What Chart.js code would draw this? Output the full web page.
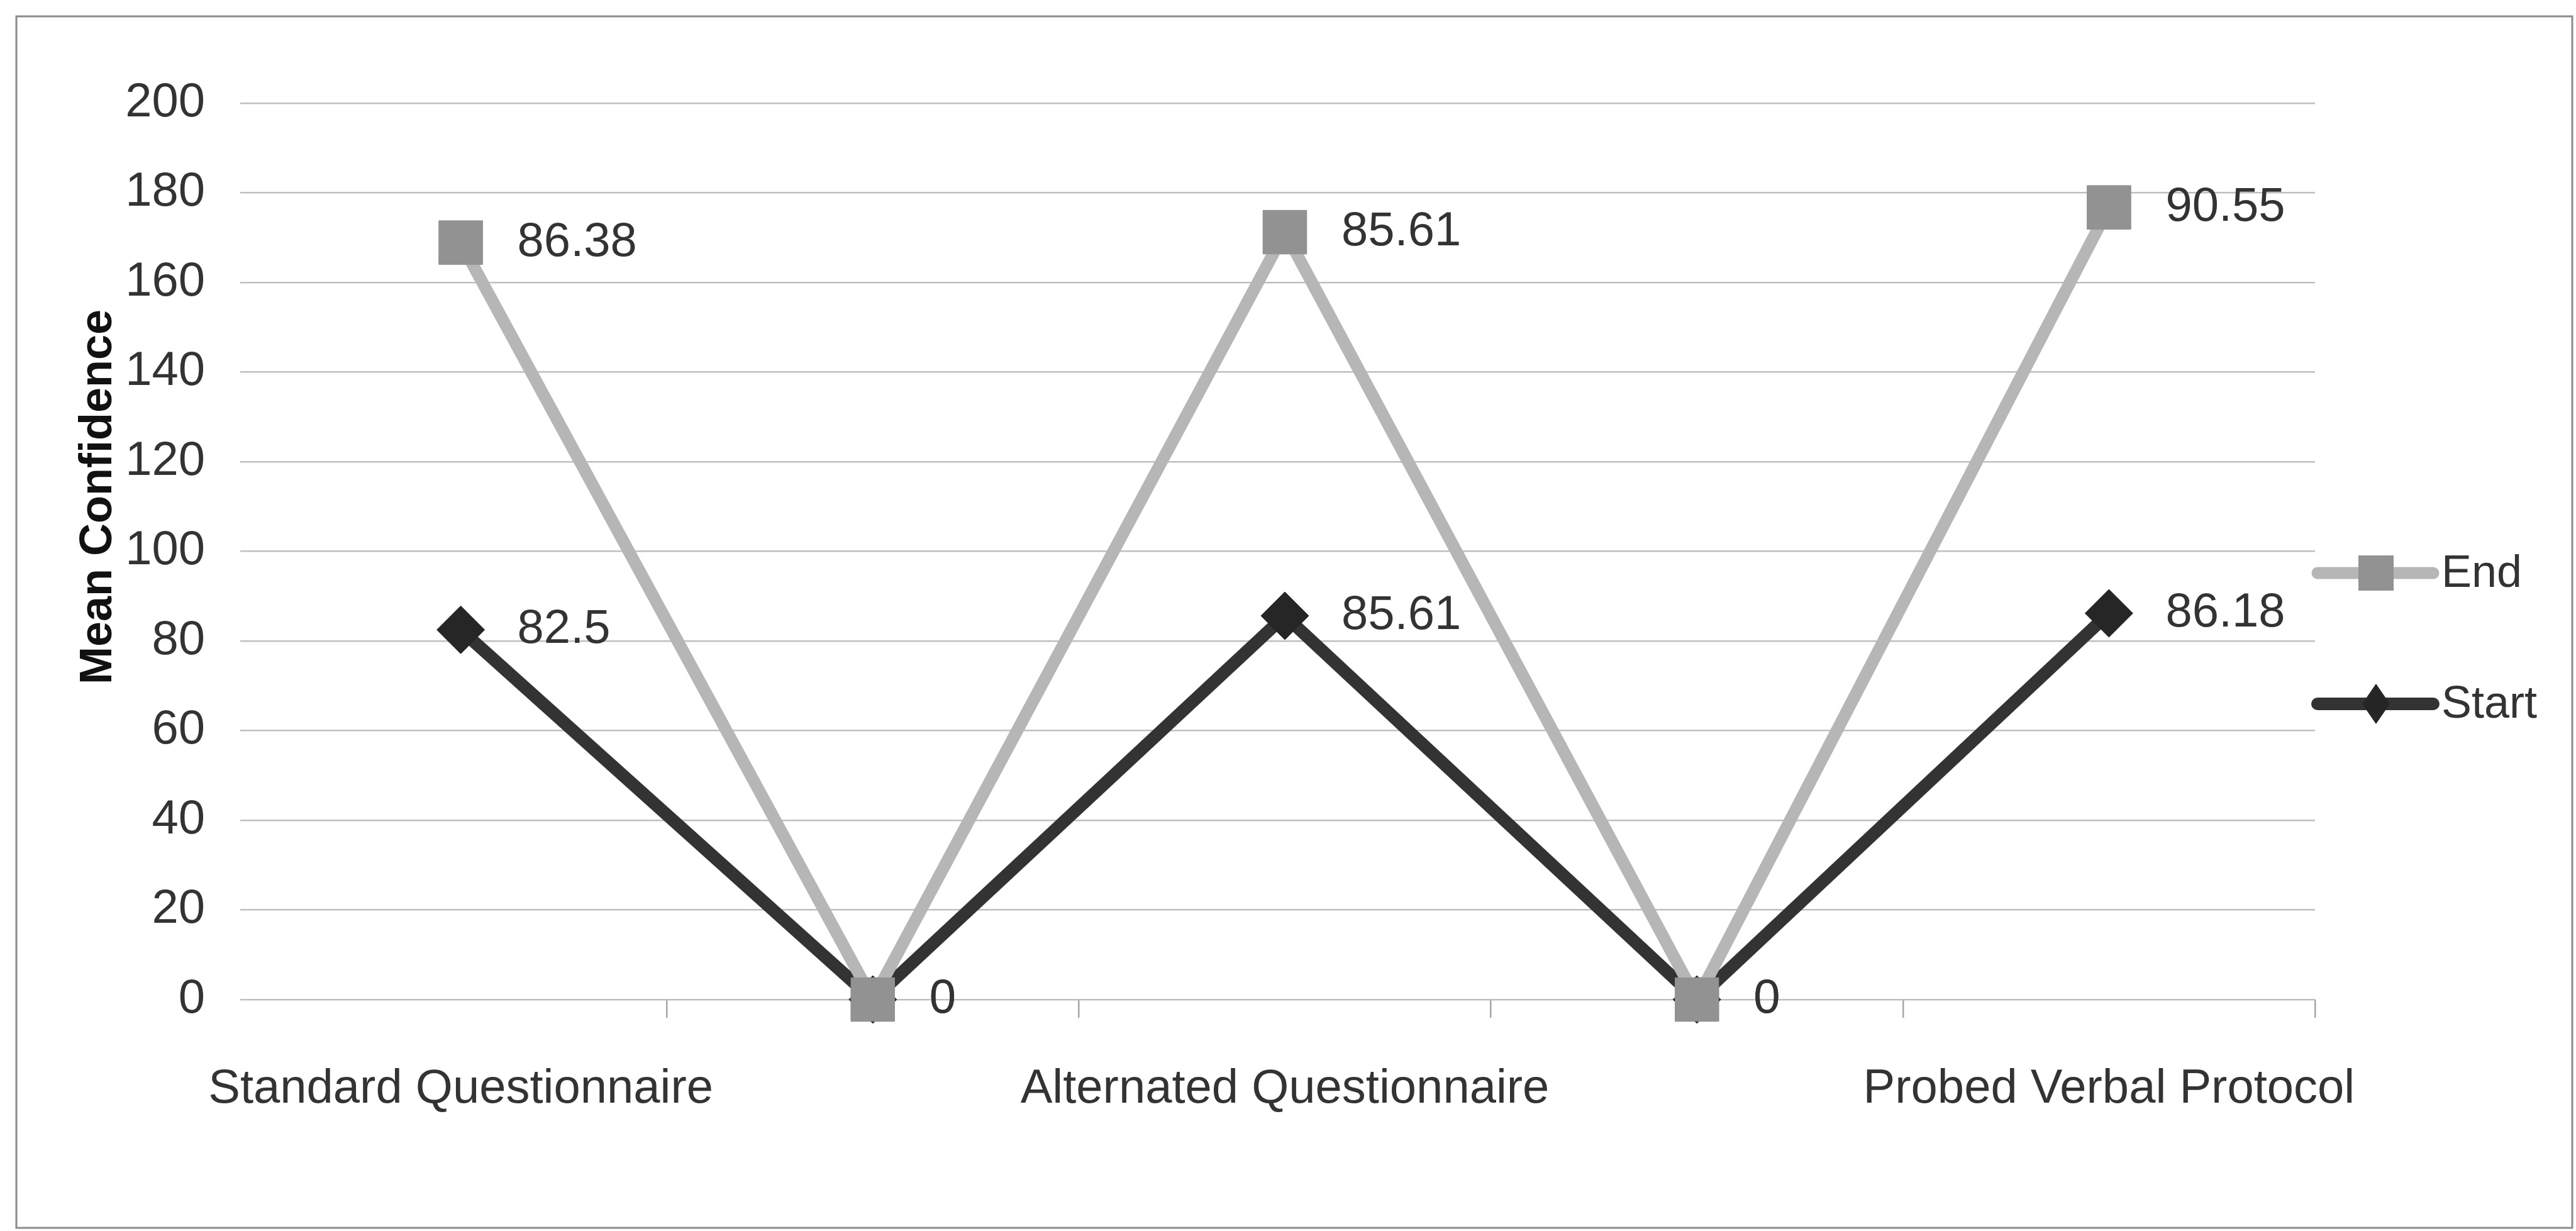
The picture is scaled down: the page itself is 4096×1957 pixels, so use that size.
<!DOCTYPE html>
<html lang="en">
<head>
    <meta charset="UTF-8">
    <title>Mean Confidence</title>
    <!-- Chart.js from the CDN -->
    <script src="https://cdn.jsdelivr.net/npm/chart.js@4.4.1/dist/chart.umd.min.js"></script>
    <style>
        html, body { margin: 0; padding: 0; background: #fff; }
        canvas { display: block; }
    </style>
</head>
<body>
    <canvas id="chart" width="4096" height="1957"></canvas>

    <script>
        // the empty categories between the methods hold the 0 points
        const categories = ['Standard Questionnaire', '', 'Alternated Questionnaire', '', 'Probed Verbal Protocol'];
        const startValues = [82.5, 0, 85.61, 0, 86.18];
        const endValues = [86.38, 0, 85.61, 0, 90.55];
        const yMin = 0;
        const yMax = 200;
        const yStep = 20;
        const yTitle = 'Mean Confidence';

        const textColor = '#333333';
        const fontFamily = "'Liberation Sans', Arial, sans-serif";
        Chart.defaults.font.family = fontFamily;
        Chart.defaults.font.size = 76;
        Chart.defaults.color = textColor;

        // white page with the grey frame round it
        const framePlugin = {
            id: 'frame',
            beforeDraw(chart) {
                const ctx = chart.ctx;
                ctx.save();
                ctx.fillStyle = '#ffffff';
                ctx.fillRect(0, 0, chart.width, chart.height);
                ctx.strokeStyle = '#8c8c8c';
                ctx.lineWidth = 3;
                ctx.strokeRect(26, 26, 4064, 1926);
                ctx.restore();
            }
        };

        // End goes on top of Start, then the value labels
        const valueLabels = {
            id: 'valueLabels',
            afterDatasetsDraw(chart) {
                chart.getDatasetMeta(1).controller.draw();
                const ctx = chart.ctx;
                ctx.save();
                ctx.font = '76px ' + fontFamily;
                ctx.fillStyle = textColor;
                ctx.textAlign = 'left';
                ctx.textBaseline = 'middle';
                chart.data.datasets.forEach((ds, i) => {
                    const meta = chart.getDatasetMeta(i);
                    meta.data.forEach((pt, j) => {
                        ctx.fillText(String(ds.data[j]), pt.x + 90, pt.y);
                    });
                });
                ctx.restore();
            }
        };

        // y title sits a bit above the middle of the axis, like the original
        const titleAndLegend = {
            id: 'titleAndLegend',
            afterDraw(chart) {
                const ctx = chart.ctx;
                ctx.save();
                ctx.translate(177, 790);
                ctx.rotate(-Math.PI / 2);
                ctx.font = 'bold 72px ' + fontFamily;
                ctx.fillStyle = '#111111';
                ctx.textAlign = 'center';
                ctx.textBaseline = 'alphabetic';
                ctx.fillText(yTitle, 0, 0);
                ctx.restore();

                // legend: End above Start
                const items = [
                    { ds: chart.data.datasets[1], y: 911 },
                    { ds: chart.data.datasets[0], y: 1119 }
                ];
                items.forEach(item => {
                    const ds = item.ds;
                    ctx.save();
                    ctx.strokeStyle = ds.borderColor;
                    ctx.lineWidth = ds.borderWidth;
                    ctx.lineCap = 'round';
                    ctx.beginPath();
                    ctx.moveTo(3685, item.y);
                    ctx.lineTo(3869, item.y);
                    ctx.stroke();
                    ctx.fillStyle = ds.pointBackgroundColor;
                    ctx.beginPath();
                    if (ds.pointStyle === 'rect') {
                        ctx.rect(3778 - 28, item.y - 28, 56, 56);
                    } else {
                        ctx.moveTo(3778, item.y - 32);
                        ctx.lineTo(3778 + 22, item.y);
                        ctx.lineTo(3778, item.y + 32);
                        ctx.lineTo(3778 - 22, item.y);
                        ctx.closePath();
                    }
                    ctx.fill();
                    ctx.font = '72px ' + fontFamily;
                    ctx.fillStyle = textColor;
                    ctx.textAlign = 'left';
                    ctx.textBaseline = 'middle';
                    ctx.fillText(ds.label, 3882, item.y + 2);
                    ctx.restore();
                });
            }
        };

        const data = {
            labels: categories,
            datasets: [{
                label: 'Start',
                data: startValues,
                borderColor: '#333333',
                borderWidth: 20,
                borderCapStyle: 'round',
                borderJoinStyle: 'round',
                pointStyle: 'rectRot',
                pointRadius: 38,
                pointBackgroundColor: '#262626',
                pointBorderColor: '#262626',
                pointBorderWidth: 1,
                tension: 0,
                fill: false,
                clip: false
            }, {
                label: 'End',
                data: endValues,
                borderColor: '#b6b6b6',
                borderWidth: 19,
                borderCapStyle: 'round',
                borderJoinStyle: 'round',
                pointStyle: 'rect',
                pointRadius: 49,
                pointBackgroundColor: '#929292',
                pointBorderColor: '#929292',
                pointBorderWidth: 1,
                tension: 0,
                fill: false,
                clip: false
            }]
        };

        const options = {
            responsive: false,
            devicePixelRatio: 1,
            animation: false,
            layout: { padding: { top: 164, right: 415, bottom: 0, left: 0 } },
            plugins: {
                legend: { display: false },
                tooltip: { enabled: false }
            },
            scales: {
                x: {
                    offset: true,
                    afterFit: (scale) => { scale.height = 368; },
                    border: { display: false },
                    grid: {
                        offset: true,
                        drawOnChartArea: false,
                        drawTicks: true,
                        tickLength: 29,
                        lineWidth: 2.5,
                        color: (c) => c.index === 0 ? 'rgba(0,0,0,0)' : '#a6a6a6'
                    },
                    ticks: {
                        padding: 68,
                        maxRotation: 0,
                        autoSkip: false,
                        color: textColor,
                        font: { size: 76 }
                    }
                },
                y: {
                    stacked: true,
                    min: yMin,
                    max: yMax,
                    afterFit: (scale) => { scale.width = 405; },
                    border: { display: false },
                    grid: {
                        color: '#bfbfbf',
                        lineWidth: 2.5,
                        drawTicks: true,
                        tickLength: 23
                    },
                    ticks: {
                        stepSize: yStep,
                        padding: 56,
                        color: textColor,
                        font: { size: 76 }
                    }
                }
            }
        };

        const ctx = document.getElementById('chart').getContext('2d');
        const myChart = new Chart(ctx, {
            type: 'line',
            data: data,
            options: options,
            plugins: [framePlugin, valueLabels, titleAndLegend]
        });
    </script>
</body>
</html>
